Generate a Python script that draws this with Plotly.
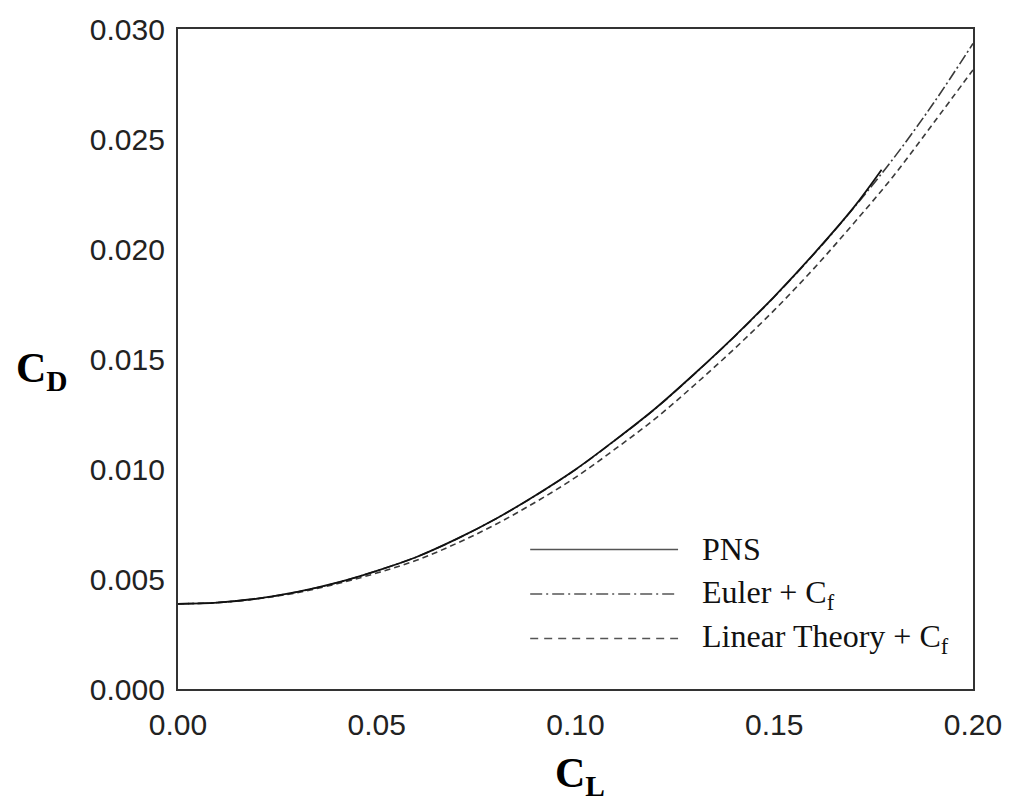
import plotly.graph_objects as go

cl = [0.00, 0.01, 0.02, 0.03, 0.04, 0.05, 0.06, 0.07, 0.08, 0.09, 0.10,
      0.11, 0.12, 0.13, 0.14, 0.15, 0.16, 0.17, 0.18, 0.19, 0.20]

cd_euler = [0.00387, 0.00393, 0.00411, 0.00441, 0.00483, 0.00537, 0.00600,
            0.00681, 0.00774, 0.00880, 0.00997, 0.01131, 0.01273, 0.01433,
            0.01602, 0.01782, 0.01977, 0.02187, 0.02412, 0.02661, 0.02934]

cd_linear = [0.00387, 0.00393, 0.00410, 0.00438, 0.00478, 0.00527, 0.00585,
             0.00661, 0.00749, 0.00850, 0.00962, 0.01091, 0.01228, 0.01383,
             0.01547, 0.01722, 0.01912, 0.02117, 0.02332, 0.02571, 0.02814]

cl_pns = [0.00, 0.01, 0.02, 0.03, 0.04, 0.05, 0.06, 0.07, 0.08, 0.09, 0.10,
          0.11, 0.12, 0.13, 0.14, 0.15, 0.16, 0.17, 0.177]
cd_pns = [0.00387, 0.00393, 0.00411, 0.00441, 0.00483, 0.00537, 0.00600,
          0.00681, 0.00774, 0.00881, 0.00998, 0.01132, 0.01274, 0.01434,
          0.01603, 0.01784, 0.01979, 0.02189, 0.02360]

x_ticks = [0.00, 0.05, 0.10, 0.15, 0.20]
x_labels = ["0.00", "0.05", "0.10", "0.15", "0.20"]
y_ticks = [0.000, 0.005, 0.010, 0.015, 0.020, 0.025, 0.030]
y_labels = ["0.000", "0.005", "0.010", "0.015", "0.020", "0.025", "0.030"]

legend_names = ["PNS", "Euler + C<sub>f</sub>", "Linear Theory + C<sub>f</sub>"]

fig = go.Figure()
fig.add_trace(go.Scatter(x=cl, y=cd_linear, mode="lines",
                         line=dict(color="#3a3a3a", width=1.6, dash="6px,4px", shape="spline"),
                         showlegend=False))
fig.add_trace(go.Scatter(x=cl, y=cd_euler, mode="lines",
                         line=dict(color="#3a3a3a", width=1.6, dash="11px,3px,2px,3px", shape="spline"),
                         showlegend=False))
fig.add_trace(go.Scatter(x=cl_pns, y=cd_pns, mode="lines",
                         line=dict(color="#111111", width=1.8, shape="spline"),
                         showlegend=False))

# manual legend
rows_y = [0.2114, 0.1439, 0.0765]
dashes = ["solid", "12px,4px,2px,4px", "8px,6px"]
for yy, dsh, name in zip(rows_y, dashes, legend_names):
    fig.add_shape(type="line", xref="paper", yref="paper",
                  x0=0.443, x1=0.629, y0=yy, y1=yy,
                  line=dict(color="#555555", width=1.6, dash=dsh))
    fig.add_annotation(xref="paper", yref="paper", x=0.657, y=yy,
                       xanchor="left", yanchor="middle", showarrow=False,
                       text=name,
                       font=dict(family="Liberation Serif", size=32, color="#111111"))

fig.add_annotation(xref="paper", yref="paper", x=-0.171, y=0.482,
                   xanchor="center", yanchor="middle", showarrow=False,
                   text="<b>C<sub>D</sub></b>",
                   font=dict(family="Liberation Serif", size=42, color="#000000"))
fig.add_annotation(xref="paper", yref="paper", x=0.506, y=-0.132,
                   xanchor="center", yanchor="middle", showarrow=False,
                   text="<b>C<sub>L</sub></b>",
                   font=dict(family="Liberation Serif", size=42, color="#000000"))

axis_font = dict(family="Liberation Sans", size=30, color="#222222")
fig.update_layout(
    width=1021, height=808,
    margin=dict(l=178, r=48, t=22, b=119),
    paper_bgcolor="white", plot_bgcolor="white",
    showlegend=False,
    xaxis=dict(range=[0, 0.2], tickvals=x_ticks, ticktext=x_labels,
               showgrid=False, zeroline=False, showline=True, mirror=True,
               linecolor="#333333", linewidth=2.2, ticks="",
               ticklabelstandoff=8, tickfont=axis_font),
    yaxis=dict(range=[0, 0.030], tickvals=y_ticks, ticktext=y_labels,
               showgrid=False, zeroline=False, showline=True, mirror=True,
               linecolor="#333333", linewidth=2.2, ticks="",
               ticklabelstandoff=5, tickfont=axis_font),
)

fig.write_html("out.html", config={"displayModeBar": False},
               post_script="document.body.style.margin='0';document.body.style.overflow='hidden';")
